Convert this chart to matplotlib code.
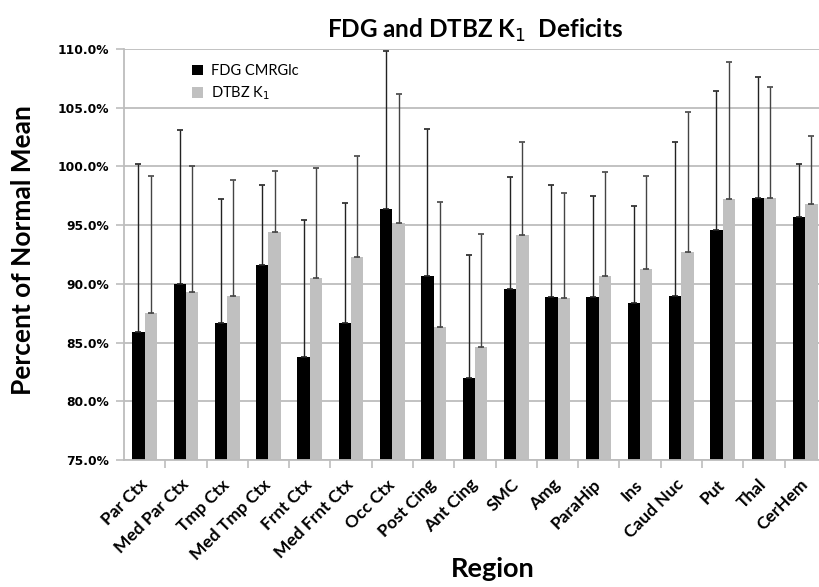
import numpy as np
import matplotlib
matplotlib.use("Agg")
import matplotlib.pyplot as plt
import matplotlib.transforms as mtransforms
from matplotlib.ticker import FuncFormatter, MultipleLocator

plt.rcParams['font.family'] = ['Lato', 'DejaVu Sans']

regions = ["Par Ctx", "Med Par Ctx", "Tmp Ctx", "Med Tmp Ctx", "Frnt Ctx",
           "Med Frnt Ctx", "Occ Ctx", "Post Cing", "Ant Cing", "SMC", "Amg",
           "ParaHip", "Ins", "Caud Nuc", "Put", "Thal", "CerHem"]

fdg = [85.9, 90.0, 86.7, 91.6, 83.8, 86.7, 96.4, 90.7, 82.0, 89.6, 88.9,
       88.9, 88.35, 89.0, 94.6, 97.3, 95.7]
fdg_top = [100.2, 103.1, 97.2, 98.4, 95.4, 96.9, 109.8, 103.2, 92.45, 99.1, 98.4,
           97.5, 96.6, 102.05, 106.4, 107.6, 100.2]

dtbz = [87.5, 89.3, 89.0, 94.4, 90.5, 92.25, 95.2, 86.3, 84.6, 94.2, 88.8,
        90.7, 91.3, 92.7, 97.2, 97.3, 96.8]
dtbz_top = [99.2, 100.0, 98.8, 99.6, 99.9, 100.9, 106.2, 96.95, 94.25, 102.1, 97.7,
            99.5, 99.2, 104.6, 108.9, 106.8, 102.6]

# error bars only drawn upward
fdg_err = np.array(fdg_top) - np.array(fdg)
dtbz_err = np.array(dtbz_top) - np.array(dtbz)

fig = plt.figure(figsize=(8.2, 5.87), dpi=100)
ax = fig.add_axes([0.1512, 0.2164, 0.856, 0.7002])

x = np.arange(len(regions))
width = 0.3
base = 75
ax.bar(x - width / 2, np.array(fdg) - base, width, bottom=base, color='black',
       label='FDG CMRGlc', zorder=2)
ax.bar(x + width / 2, np.array(dtbz) - base, width, bottom=base, color='#c0c0c0',
       label='DTBZ K$_1$', zorder=2)
ax.errorbar(x - width / 2, fdg, yerr=[np.zeros(len(x)), fdg_err], fmt='none',
            ecolor='#222222', elinewidth=1, capsize=2.5, capthick=1.2, zorder=3)
ax.errorbar(x + width / 2, dtbz, yerr=[np.zeros(len(x)), dtbz_err], fmt='none',
            ecolor='#444444', elinewidth=1, capsize=2.5, capthick=1.2, zorder=3)

ax.set_xlim(-0.5, len(regions) - 0.5)
ax.set_ylim(75, 110)
ax.yaxis.set_major_locator(MultipleLocator(5))
ax.yaxis.set_major_formatter(FuncFormatter(lambda v, p: f"{v:.1f}%"))
ax.grid(axis='y', color='#bdbdbd', linewidth=1.3, zorder=0)
ax.set_axisbelow(True)

ax.set_xticks(x)
ax.set_xticklabels(regions, rotation=45, ha='right', va='center',
                   rotation_mode='anchor', fontweight='bold', fontsize=12.5)
offset = mtransforms.ScaledTranslation(4 / 100, 0, fig.dpi_scale_trans)
for lbl in ax.get_xticklabels():
    lbl.set_transform(lbl.get_transform() + offset)
ax.set_xticks(np.arange(len(regions)) + 0.5, minor=True)
ax.tick_params(axis='x', which='major', length=0, pad=16)
ax.tick_params(axis='x', which='minor', length=6, color='#bdbdbd', width=1.2)
ax.tick_params(axis='y', length=6, color='#bdbdbd', width=1.2, pad=5)
for lbl in ax.get_yticklabels():
    lbl.set_fontfamily('DejaVu Sans')
    lbl.set_fontweight('bold')
    lbl.set_fontsize(8.8)

for s in ['top', 'right']:
    ax.spines[s].set_visible(False)
for s in ['left', 'bottom']:
    ax.spines[s].set_color('#bdbdbd')
    ax.spines[s].set_linewidth(1.3)

ax.set_ylabel('Percent of Normal Mean', fontsize=19, fontweight='bold')
ax.yaxis.set_label_coords(-0.127, 0.51)
ax.set_xlabel('Region', fontsize=19.5, fontweight='bold')
ax.xaxis.set_label_coords(0.526, -0.237)
ax.set_title('FDG and DTBZ K$_1$  Deficits', fontsize=17.5, fontweight='bold', pad=8)

leg = ax.legend(loc='upper left', bbox_to_anchor=(0.078, 0.995), frameon=False,
                fontsize=10.5, handlelength=0.75, handleheight=0.75,
                handletextpad=0.55, labelspacing=0.45)

fig.savefig('out.png', dpi=100)
